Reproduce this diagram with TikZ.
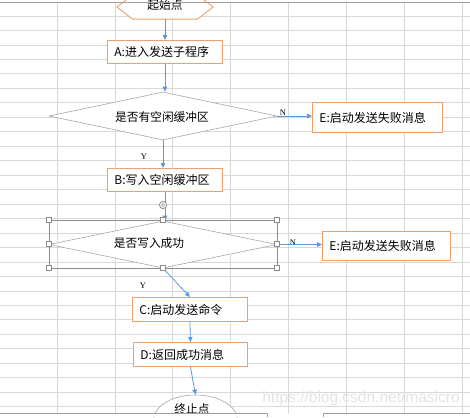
\documentclass[tikz,border=0pt]{standalone}
\usepackage{fontspec}
\setmainfont{Noto Sans CJK SC}
\newfontfamily\lblfont{Liberation Serif}
\newfontfamily\wmfont{Liberation Sans}
\usetikzlibrary{arrows.meta,shapes.geometric}
\definecolor{gridc}{HTML}{D8D8D8}
\definecolor{boxor}{HTML}{F0A06A}
\definecolor{arrblue}{HTML}{5B9BD5}
\definecolor{dgray}{HTML}{A8A8A8}
\definecolor{selgray}{HTML}{8C8C8C}
\definecolor{uigray}{HTML}{A0A0A0}
\begin{document}
\begin{tikzpicture}[x=1pt,y=-1pt,
  box/.style={draw=boxor,line width=0.9pt,fill=white,rectangle,inner xsep=7pt,inner ysep=0pt,
    align=left,anchor=north west,font=\fontsize{12}{14}\selectfont},
  dia/.style={diamond,draw=dgray,line width=0.6pt,fill=white,inner sep=0pt},
  txt/.style={inner sep=0pt,font=\fontsize{11.7}{13}\selectfont},
  yn/.style={inner sep=0pt,font=\lblfont\fontsize{8.5}{9}\selectfont},
  arr/.style={draw=arrblue,line width=0.8pt,-{Triangle[width=4.5pt,length=5pt]}},
  handle/.style={rectangle,draw=selgray,fill=white,line width=0.5pt,minimum size=5pt,inner sep=0pt}
]
\useasboundingbox (0,0) rectangle (470,417);
\clip (0,0) rectangle (470,417);
\fill[white] (0,0) rectangle (470,417);
% spreadsheet grid
\foreach \k in {0,...,27} \draw[gridc,line width=0.8pt] (0,16+14.47*\k) -- (470,16+14.47*\k);
\foreach \k in {0,...,7} \draw[gridc,line width=0.8pt] (57+57.9*\k,2) -- (57+57.9*\k,417);
% watermark
\node[inner sep=0pt,text=gray!22,font=\wmfont\fontsize{15.5}{16}\selectfont] (wm) at (361,398) {https://blog.csdn.net/masicro};
% start terminator (hexagon)
\node[minimum width=96pt,minimum height=24pt,inner sep=0pt] (S) at (165,7) {};
\draw[boxor,line width=0.9pt,fill=white] ([xshift=16pt]S.north west) -- ([xshift=-16pt]S.north east) -- (S.east)
  -- ([xshift=-16pt]S.south east) -- ([xshift=16pt]S.south west) -- (S.west) -- cycle;
\node[txt] (St) at (165,5) {起始点};
% boxes
\node[box,text width=101pt,minimum height=23pt] (A) at (107,40) {A:进入发送子程序};
\node[dia,minimum width=228pt,minimum height=48pt] (d1) at (163,116) {};
\node[txt] (d1t) at (162,117) {是否有空闲缓冲区};
\node[box,text width=116pt,minimum height=30pt] (E1) at (312,102) {E:启动发送失败消息};
\node[box,text width=101pt,minimum height=23pt] (B) at (107,168) {B:写入空闲缓冲区};
\node[dia,minimum width=228pt,minimum height=47pt] (d2) at (163,244.5) {};
\node[txt] (d2t) at (149,243) {是否写入成功};
\node[box,text width=114pt,minimum height=29pt] (E2) at (322,231) {E:启动发送失败消息};
\node[box,text width=101pt,minimum height=24pt] (C) at (132,297) {C:启动发送命令};
\node[box,text width=100pt,minimum height=24pt] (D) at (133,342) {D:返回成功消息};
\node[ellipse,draw=dgray,line width=0.6pt,fill=white,minimum width=84pt,minimum height=50pt,inner sep=0pt] (T) at (195.5,420) {};
\node[txt] (Tt) at (192,409) {终止点};
% labels
\node[yn] (N1) at (283,113) {N};
\node[yn] (Y1) at (144,157) {Y};
\node[yn] (N2) at (293,243) {N};
\node[yn] (Y2) at (143,286) {Y};
% connectors
\draw[arr] (S.south) -- (S.south |- A.north);
\draw[arr] (A.south) -- (A.south |- d1.north);
\draw[arr] (d1.east) -- (d1.east -| E1.west);
\draw[arr] (d1.south) -- (d1.south |- B.north);
\draw[arr] (B.south) -- (B.south |- d2.north);
\draw[arr] (d2.east) -- (d2.east -| E2.west);
\draw[arr] (d2.south) -- (C.north);
\draw[arr] (C.south) -- (D.north);
\draw[arr] (D.south) -- (T.north);
% selection frame with handles
\draw[selgray,line width=0.6pt] (49,220) rectangle (277,268);
\foreach \i/\p in {1/{(49,220)},2/{(163,220)},3/{(277,220)},4/{(49,244)},5/{(277,244)},6/{(49,268)},7/{(163,268)},8/{(277,268)}}
  \node[handle] (h\i) at \p {};
\draw[selgray,line width=0.8pt,fill=white] (163,205) circle (3.6pt);
\draw[selgray,line width=0.5pt] (163,205) circle (1.6pt);
% sheet UI lines
\fill[white] (0,413.5) rectangle (470,417);
\draw[uigray,line width=0.8pt] (0,413.5) -- (267,413.5) -- (267,417);
\draw[uigray,line width=0.8pt] (323,417) -- (323,413.5) -- (470,413.5);
\draw[uigray,line width=0.8pt] (0,2) -- (470,2);
\end{tikzpicture}
\end{document}
